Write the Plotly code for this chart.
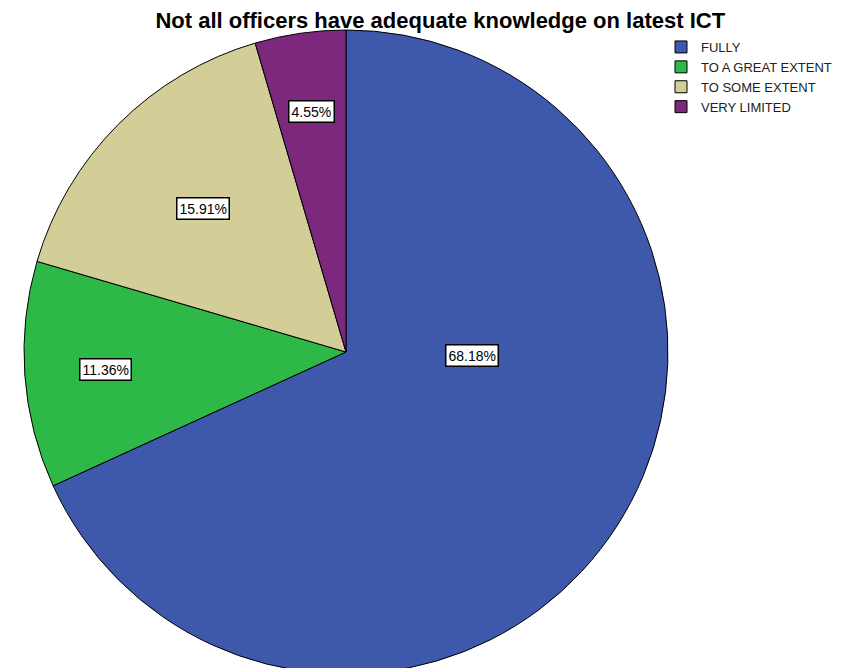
import math
import plotly.graph_objects as go

# ---- data ----
categories = ["FULLY", "TO A GREAT EXTENT", "TO SOME EXTENT", "VERY LIMITED"]
percentages = [68.18, 11.36, 15.91, 4.55]
label_text = ["68.18%", "11.36%", "15.91%", "4.55%"]

# ---- style ----
colors = ["#3E58AC", "#2EB848", "#D3CE97", "#7C287D"]
W, H = 856, 668
cx_px, cy_px, r_px = 338, 344, 322
# label placement: radius fraction and angle (deg, clockwise from top)
label_rfrac = [0.39, 0.75, 0.63, 0.755]
label_angle_override = [91.4, None, None, None]

fig = go.Figure()
fig.add_trace(go.Pie(
    labels=categories,
    values=percentages,
    sort=False,
    direction="clockwise",
    rotation=0,
    marker=dict(colors=colors, line=dict(color="black", width=1)),
    textinfo="none",
    hoverinfo="label+percent",
    domain=dict(x=[(cx_px - r_px) / W, (cx_px + r_px) / W],
                y=[(H - cy_px - r_px) / H, 1 - (cy_px - r_px) / H]),
    showlegend=True,
))

total = sum(percentages)
cum = 0.0
annotations = []
for i, v in enumerate(percentages):
    mid = (cum + v / 2) / total * 360.0
    cum += v
    ang = label_angle_override[i] if label_angle_override[i] is not None else mid
    a = math.radians(ang)
    rr = label_rfrac[i] * r_px
    px = cx_px + rr * math.sin(a)
    py = cy_px - rr * math.cos(a)
    annotations.append(dict(
        x=px / W, y=1 - py / H, xref="paper", yref="paper",
        text=label_text[i], showarrow=False,
        font=dict(family="Liberation Sans, Arial", size=14, color="black"),
        bgcolor="white", bordercolor="black", borderwidth=1.5, borderpad=2,
        xanchor="center", yanchor="middle",
    ))

fig.update_layout(
    width=W, height=H,
    margin=dict(l=0, r=0, t=0, b=0),
    paper_bgcolor="white",
    plot_bgcolor="white",
    title=dict(
        text="<b>Not all officers have adequate knowledge on latest ICT</b>",
        x=0.505, xanchor="center", y=1 - 12 / H, yanchor="middle",
        font=dict(family="Liberation Sans, Arial", size=22, color="black"),
    ),
    legend=dict(
        x=653 / W, y=1 - 24 / H, xanchor="left", yanchor="top",
        font=dict(family="Liberation Sans, Arial", size=13, color="#222222"),
        bgcolor="rgba(0,0,0,0)", tracegroupgap=0, itemwidth=30,
    ),
    annotations=annotations,
)

fig.write_html("out.html")
